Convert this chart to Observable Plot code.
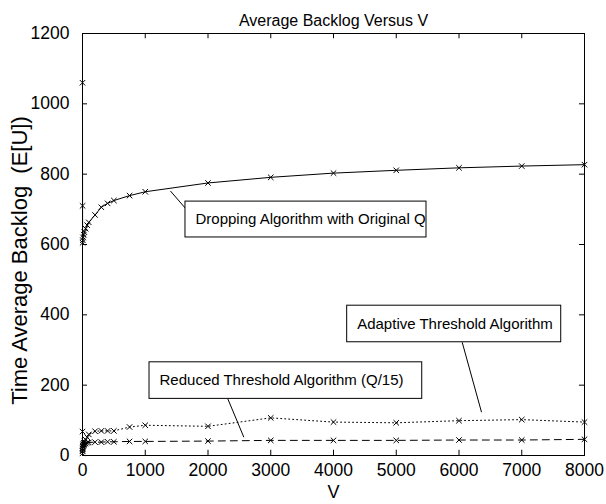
<!DOCTYPE html>
<html>
<head>
<meta charset="utf-8">
<script src="https://cdn.jsdelivr.net/npm/d3@7"></script>
<script src="https://cdn.jsdelivr.net/npm/@observablehq/plot@0.6"></script>
<style>
  html, body { margin: 0; padding: 0; background: #fff; }
  #chart svg { display: block; }
</style>
</head>
<body>
<div id="chart"></div>
<script>
// Data
const V        = [0, 1, 2, 5, 10, 20, 30, 50, 75, 100, 200, 300, 400, 500, 750, 1000, 2000, 3000, 4000, 5000, 6000, 7000, 8000];
const dropping = [1060, 710, 605, 612, 620, 628, 635, 645, 655, 663, 684, 706, 717, 725, 739, 750, 775, 791, 803, 811, 818, 823, 827];
const adaptive = [68, 12, 20, 27, 32, 36, 40, 45, 52, 60, 69, 70, 70, 70, 81, 86, 83, 107, 95, 93, 99, 102, 95];
const reduced  = [6, 15, 20, 25, 28, 30, 32, 34, 36, 37, 38, 38, 39, 39, 40, 40, 41, 43, 43, 43, 44, 44, 46];
const xTicks = [0, 1000, 2000, 3000, 4000, 5000, 6000, 7000, 8000];
const yTicks = [0, 200, 400, 600, 800, 1000, 1200];

const titleText = "Average Backlog Versus V";
const xLabel = "V";
const yLabel = "Time Average Backlog  (E[U])";

// Annotation boxes (data units) and their leader lines
const notes = [
  {text: "Dropping Algorithm with Original Q", x1: 1641, x2: 5482, y1: 620, y2: 722, lx1: 1669, ly1: 697, lx2: 1402, ly2: 752},
  {text: "Adaptive Threshold Algorithm",       x1: 4218, x2: 7629, y1: 322, y2: 426, lx1: 6051, ly1: 322, lx2: 6359, ly2: 123},
  {text: "Reduced Threshold Algorithm (Q/15)", x1: 1068, x2: 5414, y1: 161, y2: 265, lx1: 2316, ly1: 161, lx2: 2571, ly2: 52}
];

const rows = (ys) => V.map((v, i) => ({v, y: ys[i]}));
const dropRows = rows(dropping), adaRows = rows(adaptive), redRows = rows(reduced);
const fmt = d3.format("d");

const chart = Plot.plot({
  width: 606,
  height: 504,
  marginLeft: 82,
  marginRight: 22,
  marginTop: 33,
  marginBottom: 49,
  style: {fontFamily: "'Liberation Sans', Arial, sans-serif", fontSize: "17px", color: "#000", background: "#fff"},
  x: {domain: [0, 8000]},
  y: {domain: [0, 1200]},
  marks: [
    Plot.frame({stroke: "#000", strokeWidth: 1}),
    // inner ticks on all four sides
    Plot.ruleX(xTicks, {x: d => d, y1: 0, y2: 15, stroke: "#000"}),
    Plot.ruleX(xTicks, {x: d => d, y1: 1185, y2: 1200, stroke: "#000"}),
    Plot.ruleY(yTicks, {y: d => d, x1: 0, x2: 80, stroke: "#000"}),
    Plot.ruleY(yTicks, {y: d => d, x1: 7920, x2: 8000, stroke: "#000"}),
    Plot.axisX(xTicks, {tickSize: 0, tickPadding: 8, fontSize: 17.5, tickFormat: fmt, label: null}),
    Plot.axisY(yTicks, {tickSize: 0, tickPadding: 13, fontSize: 17.5, tickFormat: fmt, label: null}),
    // series
    Plot.line(dropRows, {x: "v", y: "y", stroke: "#000", strokeWidth: 1}),
    Plot.line(adaRows, {x: "v", y: "y", stroke: "#000", strokeWidth: 1, strokeDasharray: "1,3"}),
    Plot.line(redRows, {x: "v", y: "y", stroke: "#000", strokeWidth: 1, strokeDasharray: "7,5"}),
    Plot.dot(dropRows, {x: "v", y: "y", symbol: "times", r: 2.6, stroke: "#000", strokeWidth: 1}),
    Plot.dot(adaRows, {x: "v", y: "y", symbol: "times", r: 2.6, stroke: "#000", strokeWidth: 1}),
    Plot.dot(redRows, {x: "v", y: "y", symbol: "times", r: 2.6, stroke: "#000", strokeWidth: 1}),
    // annotations
    Plot.link(notes, {x1: "lx1", y1: "ly1", x2: "lx2", y2: "ly2", stroke: "#000", strokeWidth: 1}),
    Plot.rect(notes, {x1: "x1", x2: "x2", y1: "y1", y2: "y2", fill: "#fff", stroke: "#000", strokeWidth: 1}),
    Plot.text(notes, {x: "x1", y: d => (d.y1 + d.y2) / 2, text: "text", textAnchor: "start", dx: 10, fontSize: 15, fill: "#000"}),
    // titles
    Plot.text([titleText], {frameAnchor: "top", dy: -19, text: d => d, fontSize: 16, fill: "#000"}),
    Plot.text([xLabel], {frameAnchor: "bottom", dy: 42, text: d => d, fontSize: 18, fill: "#000"}),
    Plot.text([yLabel], {frameAnchor: "left", textAnchor: "middle", dx: -63, dy: 16, rotate: -90, text: d => d, fontSize: 22, fill: "#000"})
  ]
});
document.getElementById("chart").appendChild(chart);
</script>
</body>
</html>
